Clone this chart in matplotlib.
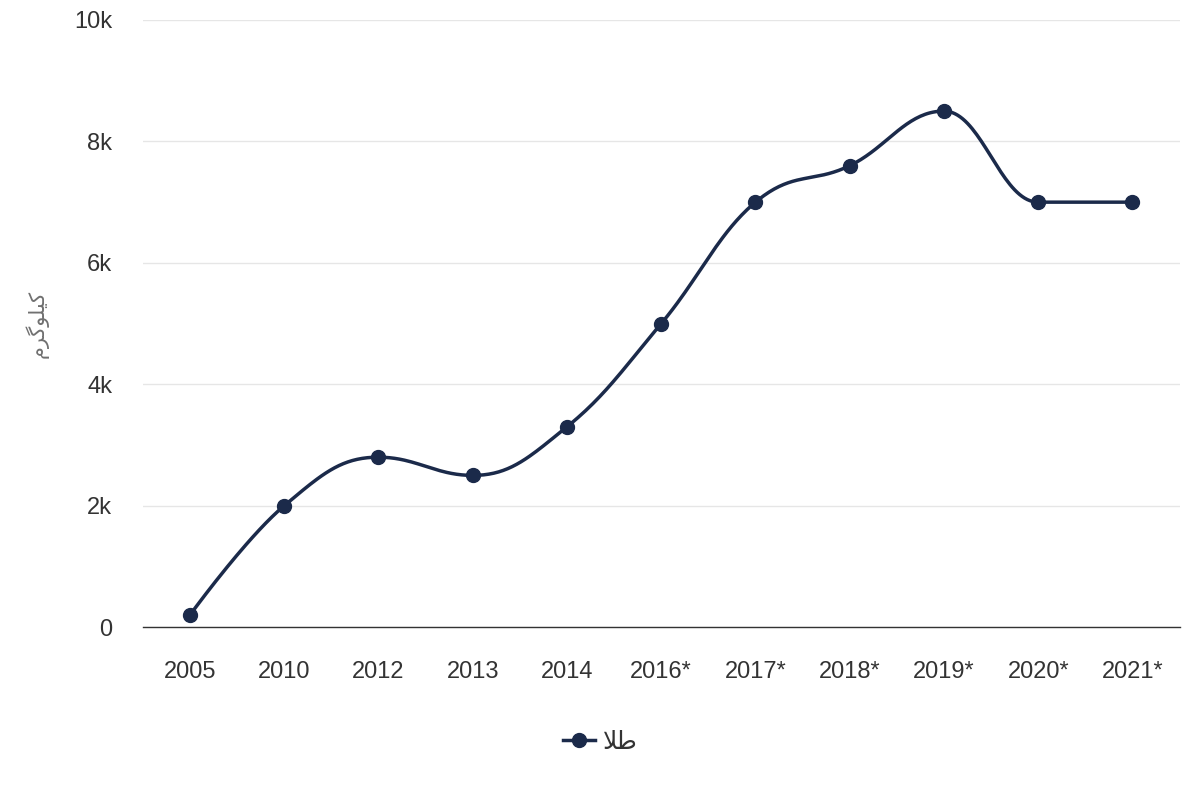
import numpy as np
import matplotlib
matplotlib.use("Agg")
import matplotlib.pyplot as plt
from matplotlib.lines import Line2D

years = ["2005", "2010", "2012", "2013", "2014", "2016*", "2017*",
         "2018*", "2019*", "2020*", "2021*"]
gold_kg = [200, 2000, 2800, 2500, 3300, 5000, 7000, 7600, 8500, 7000, 7000]
y_ticks = [0, 2000, 4000, 6000, 8000, 10000]
y_tick_labels = ["0", "2k", "4k", "6k", "8k", "10k"]

# Persian labels, written with presentation forms so the letters join up
# (matplotlib does no Arabic shaping itself)
y_label = "\uFEE1\uFEAE\uFB94\uFEEE\uFEE0\uFBFF\uFB90"   # کیلوگرم
legend_label = "\uFEFC\uFEC3"                             # طلا

line_color = "#1b2a4a"


def spline_path(xs, ys, smoothing=1.5, steps=40):
    """Cubic bezier spline through the points, highcharts style."""
    n = len(xs)
    ctrl = []
    for i in range(n):
        if i == 0 or i == n - 1:
            ctrl.append((xs[i], ys[i], xs[i], ys[i]))
            continue
        d = smoothing + 1
        lx = (smoothing * xs[i] + xs[i - 1]) / d
        ly = (smoothing * ys[i] + ys[i - 1]) / d
        rx = (smoothing * xs[i] + xs[i + 1]) / d
        ry = (smoothing * ys[i] + ys[i + 1]) / d
        corr = (ry - ly) * (rx - xs[i]) / (rx - lx) + ys[i] - ry
        ly += corr
        ry += corr
        # keep control points from overshooting the neighbours
        if ly > ys[i - 1] and ly > ys[i]:
            ly = max(ys[i - 1], ys[i]); ry = 2 * ys[i] - ly
        elif ly < ys[i - 1] and ly < ys[i]:
            ly = min(ys[i - 1], ys[i]); ry = 2 * ys[i] - ly
        if ry > ys[i + 1] and ry > ys[i]:
            ry = max(ys[i + 1], ys[i]); ly = 2 * ys[i] - ry
        elif ry < ys[i + 1] and ry < ys[i]:
            ry = min(ys[i + 1], ys[i]); ly = 2 * ys[i] - ry
        ctrl.append((lx, ly, rx, ry))
    px, py = [], []
    t = np.linspace(0, 1, steps)
    for i in range(n - 1):
        p0 = np.array([xs[i], ys[i]])
        p1 = np.array([ctrl[i][2], ctrl[i][3]])
        p2 = np.array([ctrl[i + 1][0], ctrl[i + 1][1]])
        p3 = np.array([xs[i + 1], ys[i + 1]])
        seg = ((1 - t) ** 3)[:, None] * p0 + (3 * (1 - t) ** 2 * t)[:, None] * p1 \
            + (3 * (1 - t) * t ** 2)[:, None] * p2 + (t ** 3)[:, None] * p3
        px.extend(seg[:, 0]); py.extend(seg[:, 1])
    return px, py


plt.rcParams["font.family"] = ["Liberation Sans", "DejaVu Sans"]

fig = plt.figure(figsize=(12, 8), dpi=100)
ax = fig.add_axes([0.119, 0.216, 0.864, 0.759])

x = np.arange(len(years))
sx, sy = spline_path(list(x), gold_kg)
ax.plot(sx, sy, color=line_color, linewidth=2.5, zorder=3)
ax.plot(x, gold_kg, "o", color=line_color, markersize=10, zorder=4)

ax.set_xlim(-0.5, len(years) - 0.5)
ax.set_ylim(0, 10000)
ax.set_xticks(x)
ax.set_xticklabels(years)
ax.set_yticks(y_ticks)
ax.set_yticklabels(y_tick_labels)
ax.tick_params(axis="both", length=0, labelsize=17, labelcolor="#333333")
ax.tick_params(axis="x", pad=24)
ax.tick_params(axis="y", pad=22)

ax.grid(axis="y", color="#e6e6e6", linewidth=1)
ax.set_axisbelow(True)
for side in ["top", "right", "left"]:
    ax.spines[side].set_visible(False)
ax.spines["bottom"].set_color("#333333")
ax.spines["bottom"].set_linewidth(1)

ax.set_ylabel(y_label, family=["DejaVu Sans"], fontsize=15,
              color="#707070", rotation=90, labelpad=18)

handle = Line2D([], [], color=line_color, linewidth=2.5, marker="o",
                markersize=10)
leg = fig.legend([handle], [legend_label], loc="center",
                 bbox_to_anchor=(0.5, 0.073), frameon=False,
                 prop={"family": ["DejaVu Sans"], "size": 18},
                 handlelength=1.3, handletextpad=0.3)
for t in leg.get_texts():
    t.set_color("#333333")

fig.savefig("out.png", dpi=100)
